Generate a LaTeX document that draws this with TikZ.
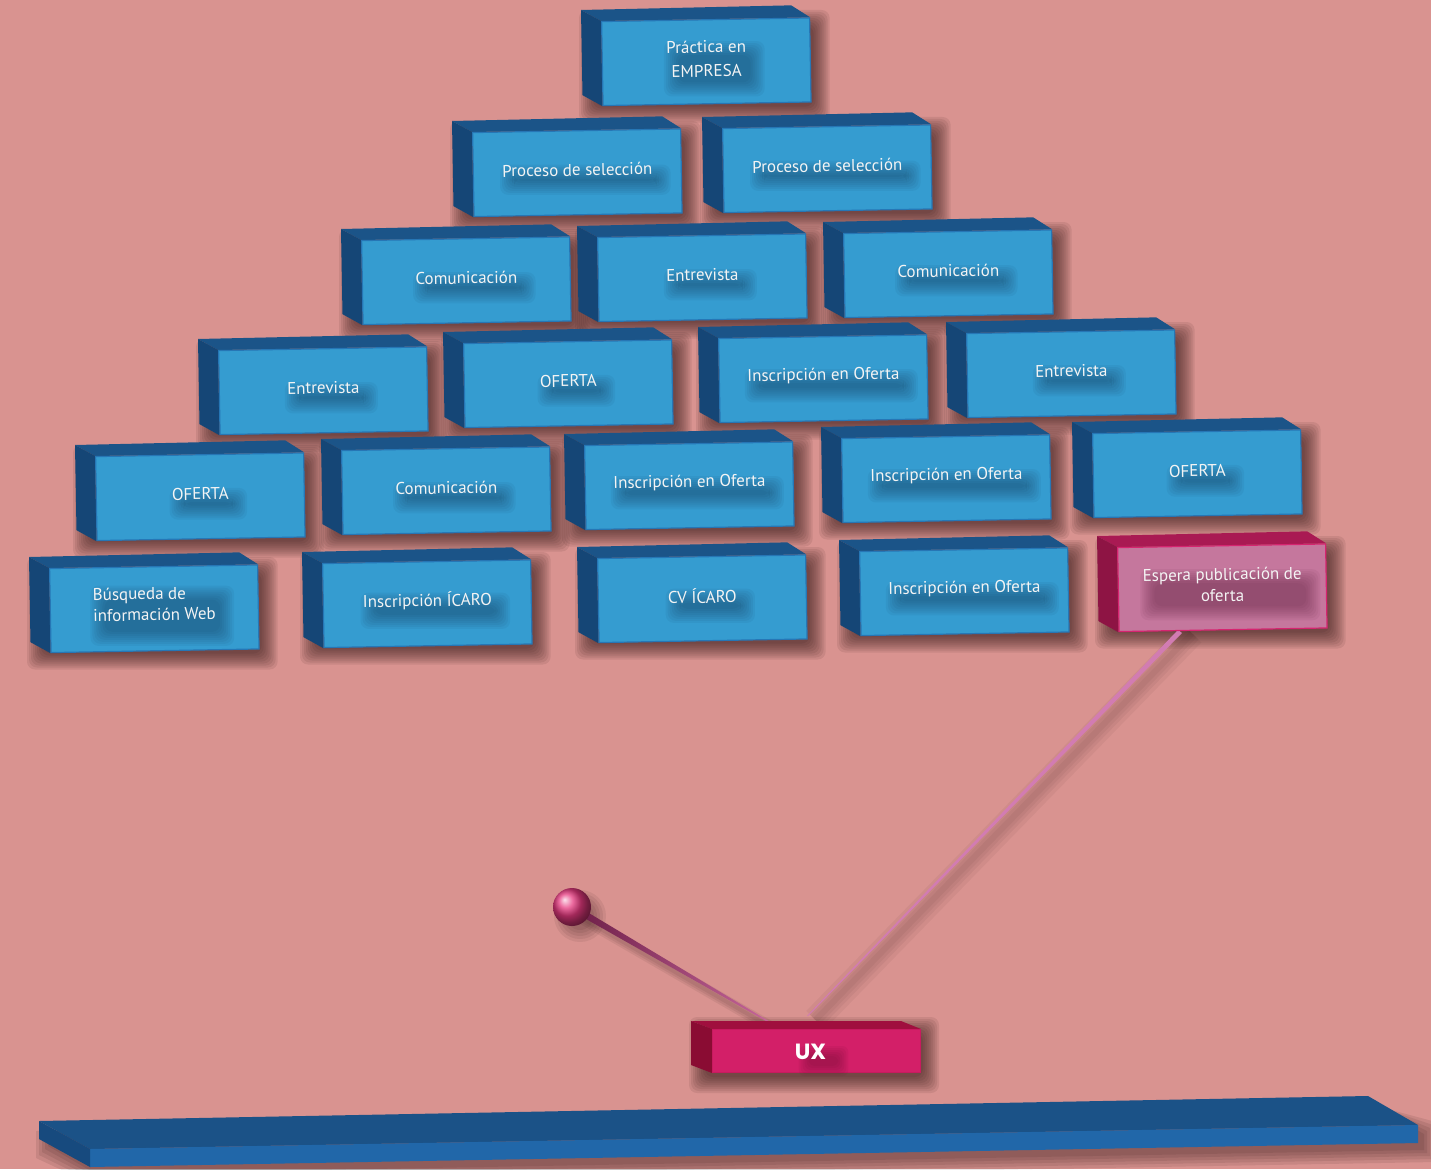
\documentclass[tikz,border=0pt]{standalone}
\usepackage{fontspec}
\setmainfont{PT Sans}
\newfontfamily\uxfont{Poppins}
\usetikzlibrary{calc}

\pgfdeclarelayer{bg}
\pgfdeclarelayer{shadow}
\pgfdeclarelayer{lines}
\pgfdeclarelayer{back}
\pgfdeclarelayer{glow}
\pgfdeclarelayer{front}
\pgfsetlayers{bg,shadow,lines,back,main,glow,front}

\definecolor{bgpink}{HTML}{D99390}
\definecolor{shadowcol}{HTML}{2E1414}
\definecolor{labelwhite}{HTML}{F4F4F4}
% blue bricks
\definecolor{blueface}{HTML}{359CD0}
\definecolor{bluetop}{HTML}{1B5488}
\definecolor{blueside}{HTML}{154676}
\definecolor{blueedge}{HTML}{2676B5}
\definecolor{blueglow}{HTML}{163A58}
% pink brick
\definecolor{pinkface}{HTML}{C5779D}
\definecolor{pinktop}{HTML}{A91A53}
\definecolor{pinkside}{HTML}{8E1444}
\definecolor{pinkedge}{HTML}{D62470}
\definecolor{pinkglow}{HTML}{5A1A3A}
% UX block
\definecolor{uxface}{HTML}{D31F68}
\definecolor{uxtop}{HTML}{A00F3E}
\definecolor{uxside}{HTML}{8A0C33}
\definecolor{uxedge}{HTML}{C81A5F}
\definecolor{uxglow}{HTML}{5A0A2A}
% base shelf
\definecolor{basetop}{HTML}{1B5287}
\definecolor{basefront}{HTML}{2167A9}
\definecolor{baseside}{HTML}{174A7E}
% ball and cords
\definecolor{ballpink}{HTML}{E6397F}
\definecolor{stickdark}{HTML}{6B1C45}
\definecolor{sticklight}{HTML}{C8679C}
\definecolor{cordpink}{HTML}{D27CB2}

\tikzset{
  brickface/.style={line width=1.2pt, minimum width=208pt, minimum height=84pt,
    inner sep=0pt, anchor=north west, rotate=1},
  bricklabel/.style={rotate=1, text=labelwhite, inner sep=0pt, align=center,
    font=\fontsize{17}{21}\selectfont},
  uxblock/.style={draw=uxedge, fill=uxface, line width=1pt, minimum width=208pt,
    minimum height=43pt, inner sep=0pt, anchor=north west},
  uxlabel/.style={text=white, inner sep=0pt, font=\uxfont\bfseries\fontsize{22}{24}\selectfont},
  ballnode/.style={circle, minimum size=38pt, inner sep=0pt, shade, ball color=ballpink},
}

% one 3-D brick: front face node, top and left faces, soft shadow, label with its glow
\newcommand\brick[5][blue]{%
  \node[brickface, draw=#1edge, fill=#1face] (#2) at (#3,#4) {};
  \begin{pgfonlayer}{front}
    \node[bricklabel] (#2-t) at ([yshift=3pt]#2.center) {#5};
  \end{pgfonlayer}
  \begin{pgfonlayer}{glow}
    \foreach \e in {0,2,...,14}
      \fill[#1glow, opacity=.065, rounded corners=8pt]
        ([shift={(12-\e,14-\e)}]#2-t.north west) rectangle ([shift={(4+\e,6+\e)}]#2-t.south east);
  \end{pgfonlayer}
  \begin{pgfonlayer}{back}
    \fill[#1top] (#2.north west) -- ([shift={(-20,-11)}]#2.north west)
      -- ([shift={(-19,-12)}]#2.north east) -- (#2.north east) -- cycle;
    \fill[#1side] (#2.north west) -- ([shift={(-20,-11)}]#2.north west)
      -- ([shift={(-20,-11)}]#2.south west) -- (#2.south west) -- cycle;
  \end{pgfonlayer}
  \begin{pgfonlayer}{shadow}
    \foreach \e in {0,2,...,16}
      \fill[shadowcol, opacity=.09, rounded corners=8pt]
        ([shift={(-6-\e,5-\e)}]#2.north west) rectangle ([shift={(2+\e,4+\e)}]#2.south east);
  \end{pgfonlayer}
}

\begin{document}
\begin{tikzpicture}[x=1pt,y=-1pt]
\useasboundingbox (0,0) rectangle (1431,1169);
\begin{pgfonlayer}{bg}
  \fill[bgpink] (0,0) rectangle (1431,1169);
\end{pgfonlayer}

% pyramid of bricks, top to bottom
\brick{prac}{601}{21}{Práctica en\\[3pt]EMPRESA}

\brick{selA}{472}{132}{Proceso de selección}
\brick{selB}{722}{128}{Proceso de selección}

\brick{comA}{361}{240}{Comunicación}
\brick{entA}{597}{237}{Entrevista}
\brick{comB}{843}{233}{Comunicación}

\brick{entB}{218}{350}{Entrevista}
\brick{ofeA}{463}{343}{OFERTA}
\brick{insA}{718}{338}{Inscripción en Oferta}
\brick{entC}{966}{333}{Entrevista}

\brick{ofeB}{95}{456}{OFERTA}
\brick{comC}{341}{450}{Comunicación}
\brick{insB}{584}{445}{Inscripción en Oferta}
\brick{insC}{841}{438}{Inscripción en Oferta}
\brick{ofeC}{1092}{433}{OFERTA}

\brick{busq}{49}{568}{\begin{tabular}{@{}l@{}}Búsqueda de\\información Web\end{tabular}}
\brick{icaro}{322}{563}{Inscripción ÍCARO}
\brick{cv}{597}{558}{CV ÍCARO}
\brick{insD}{859}{551}{Inscripción en Oferta}
\brick[pink]{espera}{1117}{547}{Espera publicación de\\oferta}

% UX block
\node[uxblock] (ux) at (712,1029) {};
\begin{pgfonlayer}{back}
  \fill[uxtop] (ux.north west) -- ([shift={(-21,-8)}]ux.north west)
    -- ([shift={(-20,-8)}]ux.north east) -- (ux.north east) -- cycle;
  \fill[uxside] (ux.north west) -- ([shift={(-21,-8)}]ux.north west)
    -- ([shift={(-21,-8)}]ux.south west) -- (ux.south west) -- cycle;
\end{pgfonlayer}
\begin{pgfonlayer}{shadow}
  \foreach \e in {0,2,...,16}
    \fill[shadowcol, opacity=.09, rounded corners=8pt]
      ([shift={(-7-\e,4-\e)}]ux.north west) rectangle ([shift={(2+\e,4+\e)}]ux.south east);
\end{pgfonlayer}
\begin{pgfonlayer}{front}
  \node[uxlabel] (ux-t) at ([xshift=-6pt,yshift=-1pt]ux.center) {UX};
\end{pgfonlayer}
\begin{pgfonlayer}{glow}
  \foreach \e in {0,2,...,10}
    \fill[uxglow, opacity=.07, rounded corners=6pt]
      ([shift={(14-\e,12-\e)}]ux-t.north west) rectangle ([shift={(12+\e,6+\e)}]ux-t.south east);
\end{pgfonlayer}

% pendulum ball
\node[ballnode] (ball) at (572,907) {};
\begin{pgfonlayer}{shadow}
  \foreach \r in {14,17,20,23,26}
    \fill[shadowcol, opacity=.08] ([shift={(8,9)}]ball.center) circle (\r);
\end{pgfonlayer}

% stick from the ball to the UX block
\coordinate (stickEnd) at ([shift={(-44,-5)}]ux.north);
\begin{pgfonlayer}{lines}
  \foreach \w in {4,8,12}
    \draw[shadowcol, opacity=.08, line width=\w pt]
      ([shift={(3,7)}]ball.center) -- ([shift={(3,6)}]stickEnd);
  \shade[left color=stickdark, right color=sticklight]
    ($(ball.center)!3.5pt!90:(stickEnd)$) -- ($(stickEnd)!0.6pt!-90:(ball.center)$)
    -- ($(stickEnd)!0.6pt!90:(ball.center)$) -- ($(ball.center)!3.5pt!-90:(stickEnd)$) -- cycle;
\end{pgfonlayer}

% cord from the waiting brick to the UX block
\coordinate (cordTop) at ([shift={(-43,1)}]espera.south);
\coordinate (cordEnd) at ([shift={(-9,-13)}]ux.north);
\begin{pgfonlayer}{lines}
  \foreach \w in {6,12,18,26}
    \draw[shadowcol, opacity=.05, line width=\w pt]
      ([shift={(12,2)}]cordTop) -- ([shift={(8,4)}]cordEnd);
  \fill[cordpink]
    ($(cordTop)!2.5pt!90:(cordEnd)$) -- ($(cordEnd)!0.5pt!-90:(cordTop)$)
    -- ($(cordEnd)!0.5pt!90:(cordTop)$) -- ($(cordTop)!2.5pt!-90:(cordEnd)$) -- cycle;
\end{pgfonlayer}

% base shelf with its shadow
\begin{pgfonlayer}{shadow}
  \foreach \e in {0,3,6,9,12}
    \fill[shadowcol, opacity=.1]
      (48-\e,1131) -- (1376,1106) -- (1424+\e,1134-\e)
      -- (1424+\e,1150+\e) -- (96,1174+\e) -- (48-\e,1146+\e) -- cycle;
\end{pgfonlayer}
\fill[basetop] (39,1121) -- (1368,1096) -- (1418,1125) -- (90,1149) -- cycle;
\fill[basefront] (90,1149) -- (1418,1125) -- (1418,1143) -- (90,1167) -- cycle;
\fill[baseside] (39,1121) -- (90,1149) -- (90,1167) -- (39,1139) -- cycle;
\end{tikzpicture}
\end{document}
